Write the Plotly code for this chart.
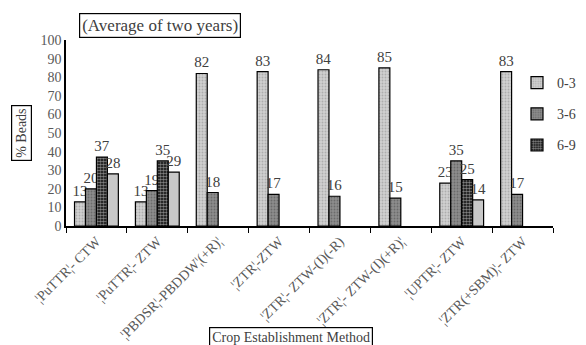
import plotly.graph_objects as go

categories = ["¦PuTTR¦- CTW", "¦PuTTR¦- ZTW", "¦PBDSR¦-PBDDW¦(+R)¦", "¦ZTR¦-ZTW",
              "¦ZTR¦- ZTW-(I)(-R)", "¦ZTR¦- ZTW-(I)(+R)¦", "¦UPTR¦- ZTW", "¦ZTR(+SBM)¦- ZTW"]
s_0_3 = [13, 13, 82, 83, 84, 85, 23, 83]
s_3_6 = [20, 19, 18, 17, 16, 15, 35, 17]
s_6_9 = [37, 35, None, None, None, None, 25, None]
s_9_12 = [28, 29, None, None, None, None, 14, None]
series_names = ["0-3 cm", "3-6 cm", "6-9 cm", "9-12 cm"]
y_ticks = [0, 10, 20, 30, 40, 50, 60, 70, 80, 90, 100]

FONT = "Liberation Serif, Times New Roman, serif"

styles = [
    dict(color="#c4c4c4", pattern=dict(shape=".", fgcolor="#8a8a8a", bgcolor="#d0d0d0", size=3, solidity=0.3)),
    dict(color="#7a7a7a", pattern=dict(shape=".", fgcolor="#4a4a4a", bgcolor="#8c8c8c", size=3, solidity=0.3)),
    dict(color="#000000", pattern=dict(shape=".", fgcolor="#ffffff", bgcolor="#000000", size=3, solidity=0.6)),
    dict(color="#c8c8c8", pattern=dict(shape="", fgcolor="#c8c8c8", bgcolor="#c8c8c8")),
]

# The page body has an 8px margin, so the figure is drawn 8px in from the top-left.
OFF = 8
W, H = 586 - OFF, 345 - OFF
# plot area in page pixels: x 66..553, y 40..226
L, R, T, B = 66 - OFF, 586 - 553, 40 - OFF, 345 - 226
PW = 553 - 66
PH = 226 - 40


def px(xp):
    return (xp - 66) / PW


def py(yp):
    return (226 - yp) / PH


fig = go.Figure()
for i, (name, vals) in enumerate(zip(series_names, [s_0_3, s_3_6, s_6_9, s_9_12])):
    st = styles[i]
    fig.add_trace(go.Bar(
        name=name, x=categories, y=vals,
        marker=dict(color=st["color"], pattern=st["pattern"], line=dict(color="#000000", width=1.2)),
        text=[("" if v is None else str(v)) for v in vals],
        textposition="outside", cliponaxis=False, constraintext="none",
        textfont=dict(family=FONT, size=15, color="#404040"),
        showlegend=(i < 3), legendgroup=name,
    ))

fig.update_layout(
    width=W, height=H,
    margin=dict(l=L, r=R, t=T, b=B, autoexpand=False),
    paper_bgcolor="white", plot_bgcolor="white",
    barmode="group", bargap=0.28, bargroupgap=0,
    font=dict(family=FONT, size=12, color="#595959"),
    legend=dict(x=px(517), y=py(67), xanchor="left", yanchor="top",
                font=dict(family=FONT, size=14, color="#404040"),
                tracegroupgap=10, itemwidth=30, bgcolor="rgba(0,0,0,0)"),
    xaxis=dict(showline=True, linecolor="#000000", linewidth=1.5, ticks="outside",
               ticklen=5, tickcolor="#000000", tickangle=-45, showgrid=False, automargin=False,
               tickson="boundaries", tickfont=dict(family=FONT, size=14, color="#595959")),
    yaxis=dict(range=[0, 100], tickvals=y_ticks, showline=True, linecolor="#000000",
               linewidth=1.5, showgrid=False, zeroline=False, ticks="", automargin=False,
               tickfont=dict(family=FONT, size=14, color="#595959")),
    annotations=[
        dict(text="(Average of two years)", xref="paper", yref="paper", x=px(159.5), y=py(25.5),
             xanchor="center", yanchor="middle",
             showarrow=False, font=dict(family=FONT, size=17, color="#404040"),
             bordercolor="#000000", borderwidth=1.2, borderpad=2, bgcolor="white"),
        dict(text="% Beads", xref="paper", yref="paper", x=px(21), y=py(133),
             xanchor="center", yanchor="middle",
             textangle=-90, showarrow=False, font=dict(family=FONT, size=14, color="#404040"),
             bordercolor="#000000", borderwidth=1.2, borderpad=2, bgcolor="white"),
        dict(text="Crop Establishment Method", xref="paper", yref="paper", x=px(291), y=py(337),
             xanchor="center", yanchor="middle",
             showarrow=False, font=dict(family=FONT, size=14, color="#404040"),
             bordercolor="#000000", borderwidth=1.2, borderpad=2, bgcolor="white"),
    ],
)

fig.write_html("out.html")
